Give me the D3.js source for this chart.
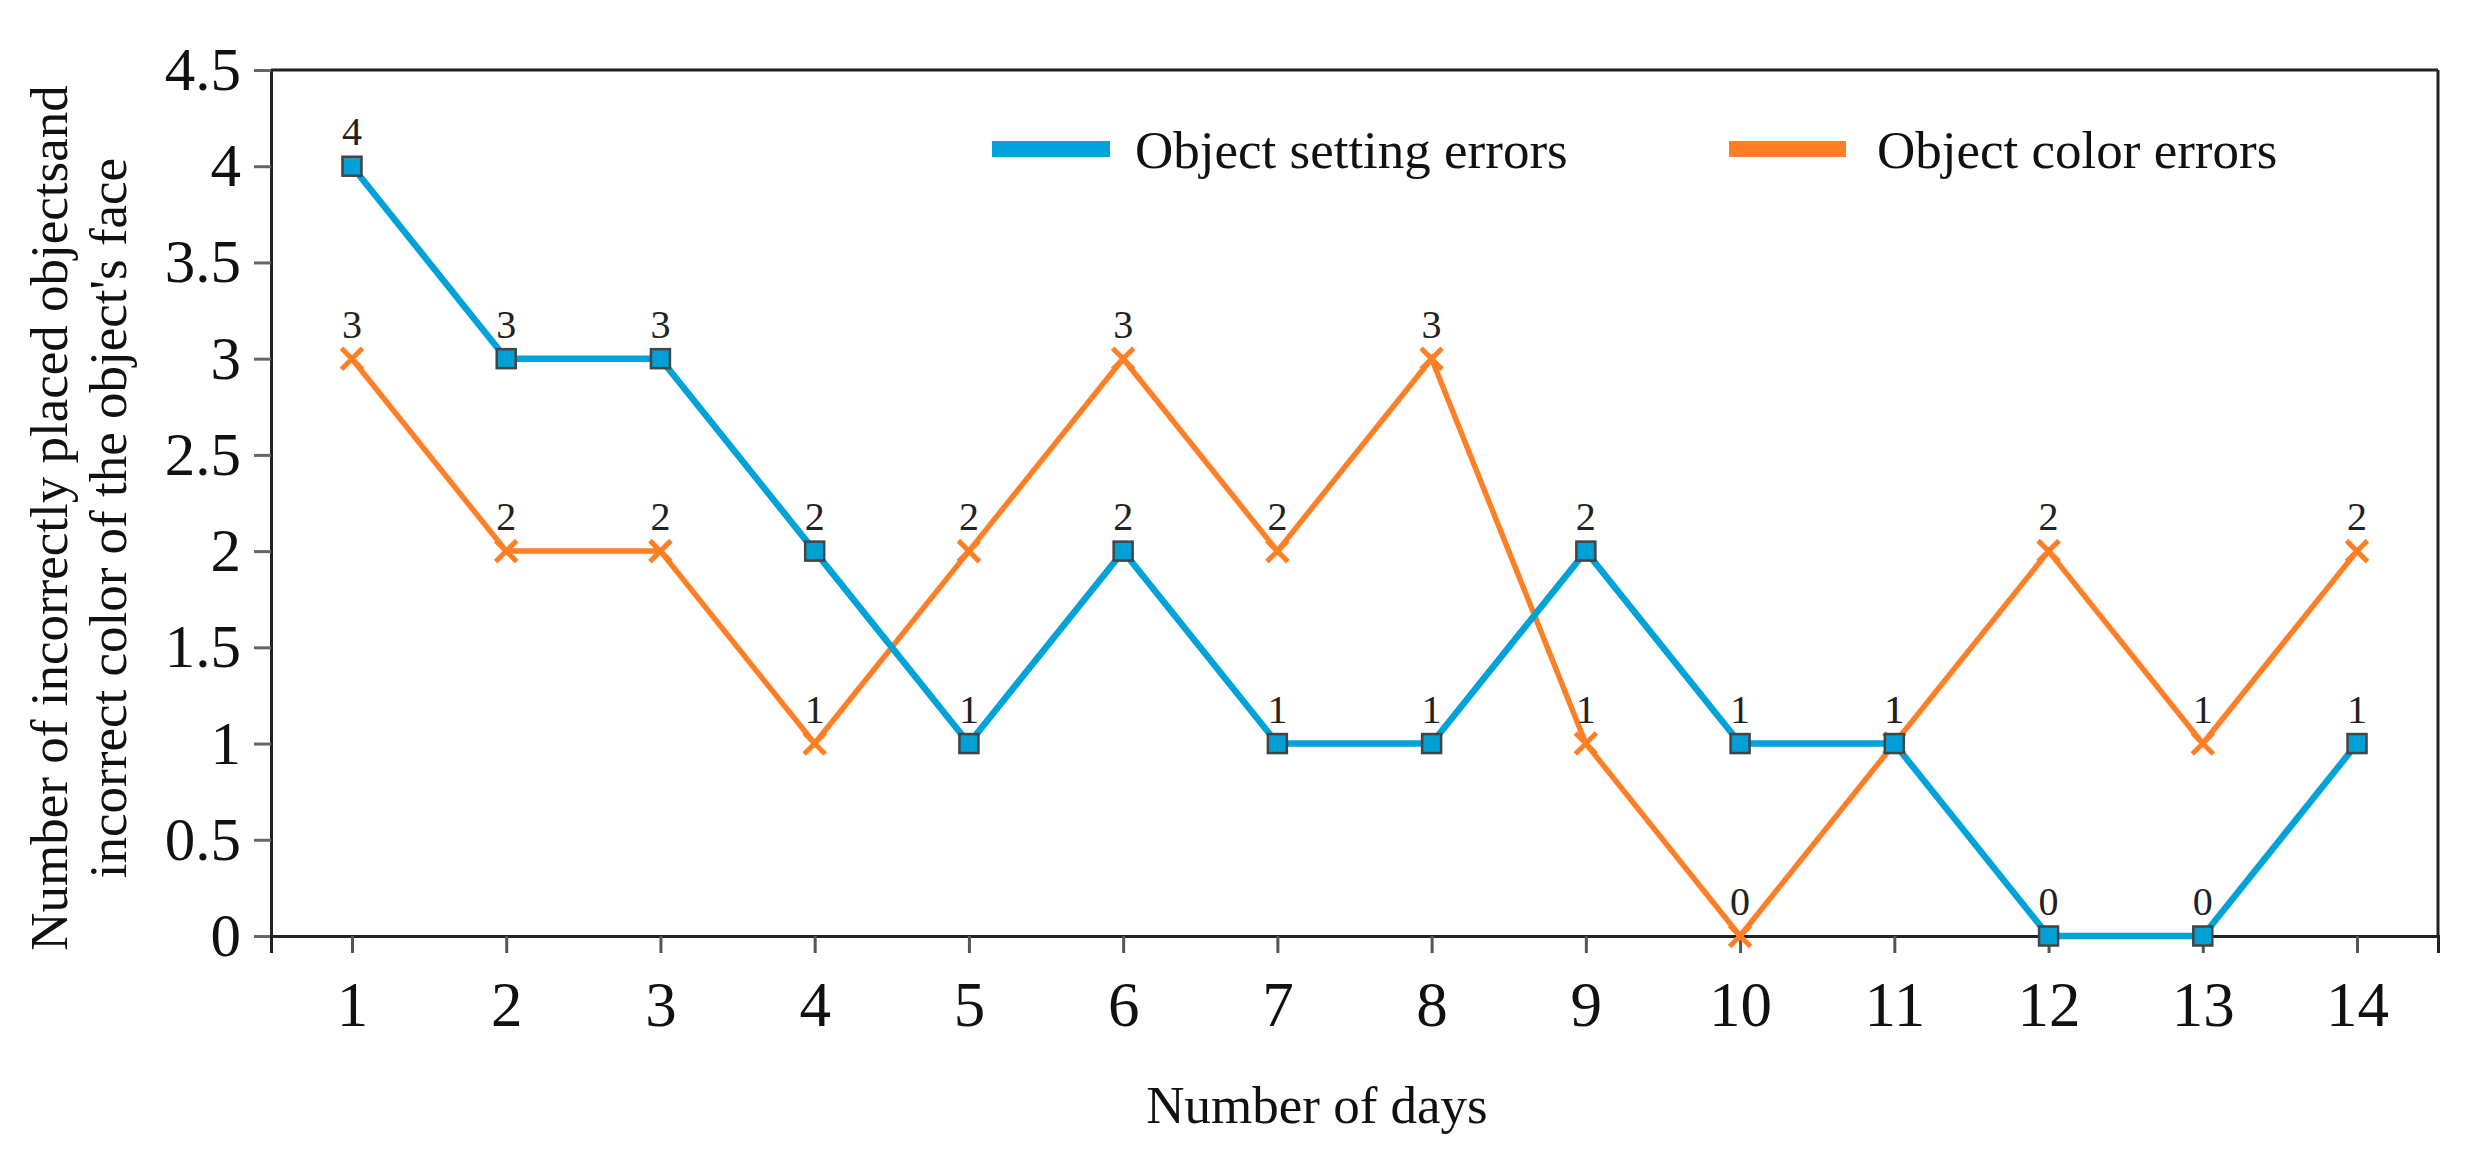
<!DOCTYPE html>
<html>
<head>
<meta charset="utf-8">
<script src="https://cdn.jsdelivr.net/npm/d3@7"></script>
<style>
  html, body { margin: 0; padding: 0; background: #fff; }
  svg { display: block; }
  text { font-family: "Liberation Serif", "Times New Roman", serif; }
</style>
</head>
<body>
<svg id="chart" width="2472" height="1164"></svg>
<script>
// ---- data ----
const days = [1, 2, 3, 4, 5, 6, 7, 8, 9, 10, 11, 12, 13, 14];
const settingErrors = [4, 3, 3, 2, 1, 2, 1, 1, 2, 1, 1, 0, 0, 1];
const colorErrors = [3, 2, 2, 1, 2, 3, 2, 3, 1, 0, 1, 2, 1, 2];
const yTicks = [0, 0.5, 1, 1.5, 2, 2.5, 3, 3.5, 4, 4.5];
const yTickLabels = ["0", "0.5", "1", "1.5", "2", "2.5", "3", "3.5", "4", "4.5"];
const seriesNames = ["Object setting errors", "Object color errors"];
const yTitleLines = ["Number of incorrectly placed objectsand", "incorrect color of the object's face"];
const xTitle = "Number of days";

(function () {
// ---- layout ----
const svg = d3.select("#chart");
const pL = 271, pR = 2438, pT = 70, pB = 936;
const blue = "#00a3d9", orange = "#ff7f27";

const x = d3.scaleLinear().domain([0.475, 14.525]).range([pL, pR]);
const y = d3.scaleLinear().domain([0, 4.5]).range([pB, pT]);

// frame (top & right)
svg.append("line").attr("x1", pL).attr("x2", pR).attr("y1", pT).attr("y2", pT)
  .attr("stroke", "#222").attr("stroke-width", 3);
svg.append("line").attr("x1", pR).attr("x2", pR).attr("y1", pT).attr("y2", pB)
  .attr("stroke", "#222").attr("stroke-width", 3);

// y axis
const yAxis = svg.append("g").attr("transform", `translate(${pL},0)`)
  .call(d3.axisLeft(y).tickValues(yTicks).tickSize(17).tickPadding(13)
    .tickFormat((d, i) => yTickLabels[i]));
yAxis.select(".domain").attr("stroke", "#222").attr("stroke-width", 3);
yAxis.selectAll(".tick line").attr("stroke", "#666").attr("stroke-width", 3);
yAxis.selectAll(".tick text").attr("font-size", 61).attr("fill", "#111")
  .attr("font-family", "Liberation Serif");

// x axis
const xAxis = svg.append("g").attr("transform", `translate(0,${pB})`)
  .call(d3.axisBottom(x).tickValues(days).tickSize(17).tickPadding(28)
    .tickFormat(d3.format("d")));
xAxis.select(".domain").attr("stroke", "#222").attr("stroke-width", 3);
xAxis.selectAll(".tick line").attr("stroke", "#555").attr("stroke-width", 3);
xAxis.selectAll(".tick text").attr("font-size", 63).attr("fill", "#111")
  .attr("font-family", "Liberation Serif");

// lines
const line = d3.line().x((d, i) => x(days[i])).y(d => y(d));
svg.append("path").datum(colorErrors).attr("d", line)
  .attr("fill", "none").attr("stroke", orange).attr("stroke-width", 5.5);
svg.append("path").datum(settingErrors).attr("d", line)
  .attr("fill", "none").attr("stroke", blue).attr("stroke-width", 6.5);

// orange x markers
const xs = 10.5;
const og = svg.append("g");
colorErrors.forEach((v, i) => {
  const cx = x(days[i]), cy = y(v);
  og.append("path")
    .attr("d", `M${cx - xs},${cy - xs}L${cx + xs},${cy + xs}M${cx - xs},${cy + xs}L${cx + xs},${cy - xs}`)
    .attr("stroke", orange).attr("stroke-width", 5).attr("fill", "none");
});

// blue square markers
const sq = 19;
svg.append("g").selectAll("rect").data(settingErrors).join("rect")
  .attr("x", (d, i) => x(days[i]) - sq / 2)
  .attr("y", d => y(d) - sq / 2)
  .attr("width", sq).attr("height", sq)
  .attr("fill", "#009fd6").attr("stroke", "#444").attr("stroke-width", 2.5);

// data labels
const lab = svg.append("g").attr("font-size", 40).attr("fill", "#222").attr("text-anchor", "middle");
settingErrors.forEach((v, i) => {
  lab.append("text").attr("x", x(days[i])).attr("y", y(v) - 21).text(v);
});
colorErrors.forEach((v, i) => {
  lab.append("text").attr("x", x(days[i])).attr("y", y(v) - 21).text(v);
});

// legend
const legend = [
  { name: seriesNames[0], color: blue, x0: 992, x1: 1110, tx: 1135 },
  { name: seriesNames[1], color: orange, x0: 1729, x1: 1846, tx: 1877 }
];
legend.forEach(l => {
  svg.append("rect").attr("x", l.x0).attr("y", 141).attr("width", l.x1 - l.x0).attr("height", 16)
    .attr("fill", l.color);
  svg.append("text").attr("x", l.tx).attr("y", 168).attr("font-size", 53).attr("fill", "#111")
    .text(l.name);
});

// y title
const yt = svg.append("g").attr("font-size", 53).attr("fill", "#111").attr("text-anchor", "middle");
yt.append("text").attr("transform", "translate(67,518) rotate(-90)").text(yTitleLines[0]);
yt.append("text").attr("transform", "translate(126,518) rotate(-90)").text(yTitleLines[1]);

// x title
svg.append("text").attr("x", 1317).attr("y", 1123).attr("font-size", 53).attr("fill", "#111")
  .attr("text-anchor", "middle").text(xTitle);
})();
</script>
</body>
</html>
